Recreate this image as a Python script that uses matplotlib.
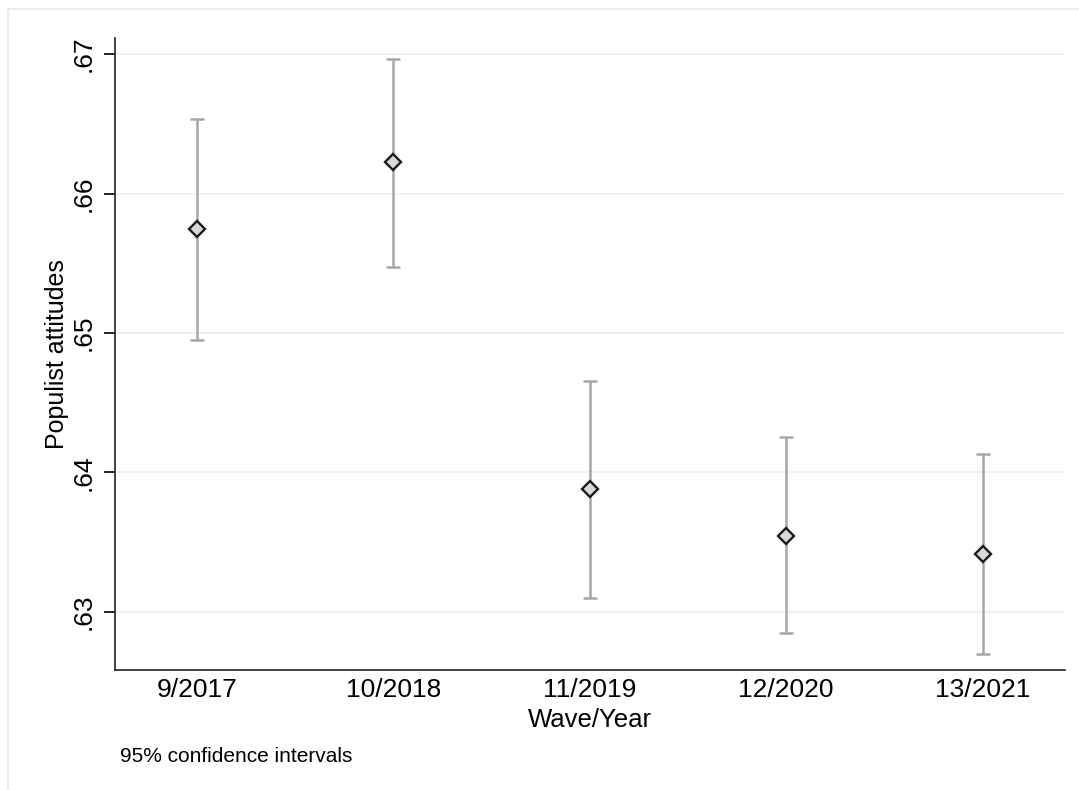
import matplotlib.pyplot as plt
from matplotlib.lines import Line2D

waves = ["9/2017", "10/2018", "11/2019", "12/2020", "13/2021"]
means = [0.65746, 0.66226, 0.63882, 0.63545, 0.63416]
upper = [0.66534, 0.66964, 0.64656, 0.64254, 0.64133]
lower = [0.64950, 0.65473, 0.63100, 0.62849, 0.62699]
yticks = [0.63, 0.64, 0.65, 0.66, 0.67]
ytick_labels = [".63", ".64", ".65", ".66", ".67"]

plt.rcParams['font.family'] = ['Liberation Sans', 'DejaVu Sans']

fig = plt.figure(figsize=(10.79, 7.90), dpi=100)
ax = fig.add_axes([115 / 1079, 1 - 670 / 790, 950 / 1079, 632 / 790])

x = list(range(1, len(waves) + 1))
err_lo = [m - l for m, l in zip(means, lower)]
err_hi = [u - m for m, u in zip(means, upper)]
ax.errorbar(x, means, yerr=[err_lo, err_hi], fmt='none', ecolor='#a6a6a6',
            elinewidth=1.8, capsize=5, capthick=1.8, zorder=2)
ax.plot(x, means, linestyle='none', marker='D', markersize=8.5,
        markerfacecolor='#d9d9d9', markeredgecolor='#1a1a1a',
        markeredgewidth=1.7, zorder=3)

ax.set_xlim(0.582, 5.42)
ax.set_ylim(0.62584, 0.67115)
ax.set_xticks(x)
ax.set_xticklabels(waves, fontsize=19)
ax.set_yticks(yticks)
ax.set_yticklabels(ytick_labels, fontsize=19, rotation=90, va='center')
ax.tick_params(axis='x', length=0, pad=6)
ax.tick_params(axis='y', length=8, width=1.2, pad=6)
ax.grid(axis='y', color='#e6eff0', linewidth=1.2)
ax.set_axisbelow(True)

for s in ['top', 'right']:
    ax.spines[s].set_visible(False)
for s in ['left', 'bottom']:
    ax.spines[s].set_linewidth(1.2)
    ax.spines[s].set_color('#222222')

ax.set_xlabel("Wave/Year", fontsize=18.5, labelpad=4)
ax.set_ylabel("Populist attitudes", fontsize=18, labelpad=2)
fig.text(120 / 1079, 1 - 756 / 790, "95% confidence intervals", fontsize=15,
         va='center', ha='left')

# light outer frame of the graph region
fig.add_artist(Line2D([8 / 1079, 8 / 1079], [0, 1 - 9 / 790], color='#e3eeee', linewidth=1.5))
fig.add_artist(Line2D([8 / 1079, 1], [1 - 9 / 790, 1 - 9 / 790], color='#e3eeee', linewidth=1.5))

plt.savefig('out.png', dpi=100)
